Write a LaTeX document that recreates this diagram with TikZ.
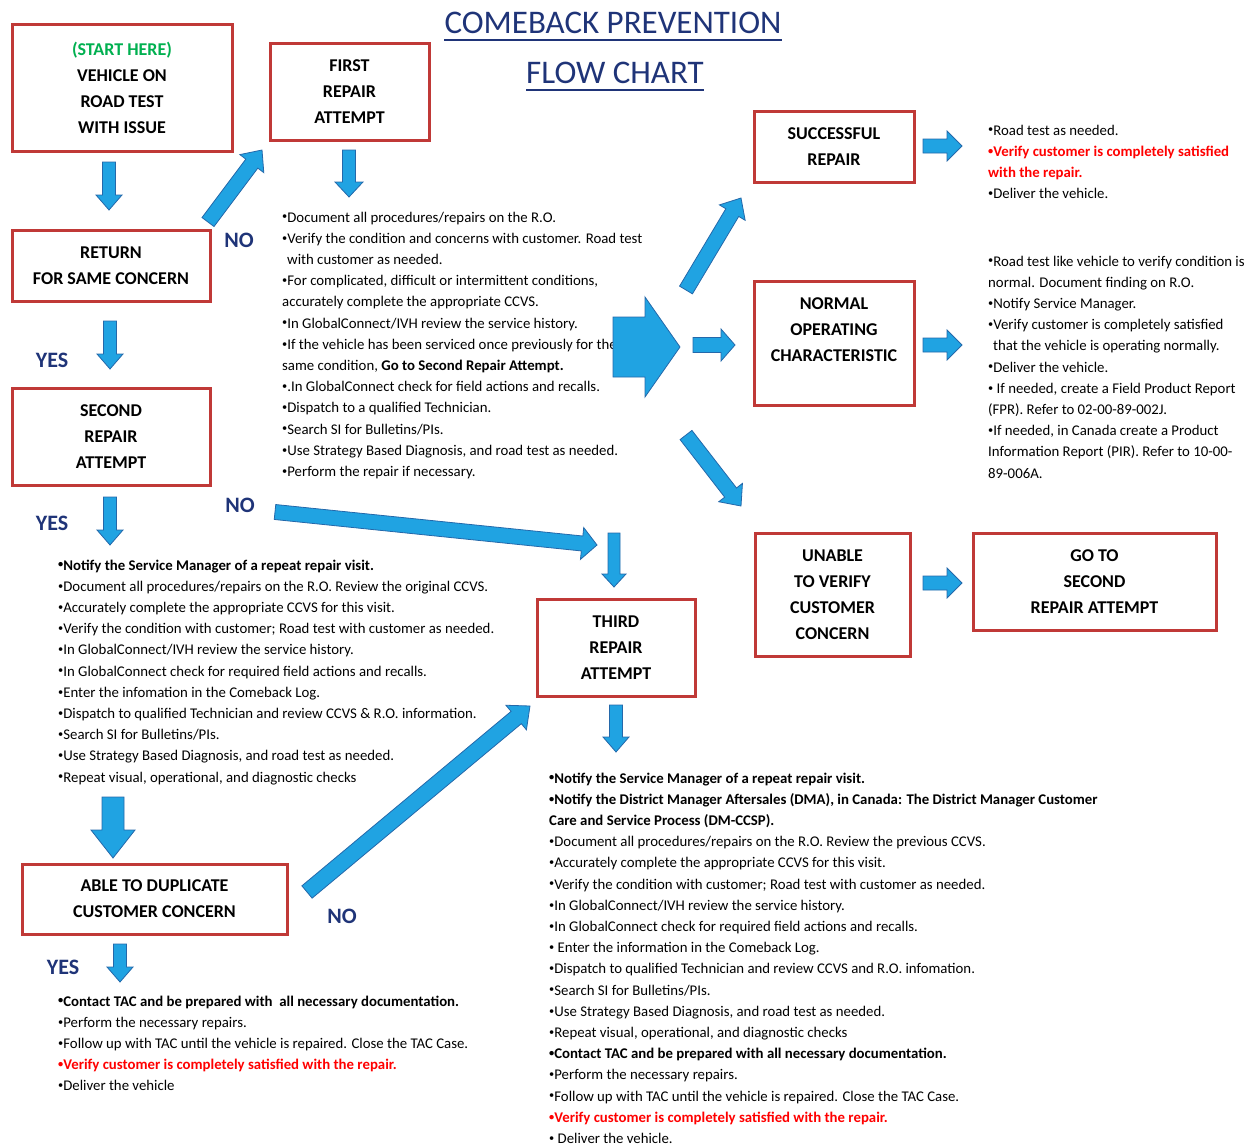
\documentclass[tikz,border=0pt]{standalone}
\usepackage{fontspec}
\setmainfont{Carlito}
\usetikzlibrary{calc}

\definecolor{boxred}{RGB}{192,57,55}
\definecolor{arrowblue}{RGB}{32,163,226}
\definecolor{arrowedge}{RGB}{36,104,170}
\definecolor{navy}{RGB}{31,52,120}
\definecolor{startgreen}{RGB}{0,176,80}
\definecolor{alertred}{RGB}{255,0,0}

\newcommand{\bl}{\raisebox{.3ex}{\scalebox{.7}{\textbullet}}}
% block arrow: from, to, half shaft, half head, head length
\newcommand{\flowarrow}[5]{%
  \coordinate (fahead) at ($(#2)!#5!(#1)$);
  \draw[flow] ($(#1)!#3!90:(#2)$) -- ($(fahead)!#3!90:(#2)$) -- ($(fahead)!#4!90:(#2)$) -- (#2)
    -- ($(fahead)!#4!-90:(#2)$) -- ($(fahead)!#3!-90:(#2)$) -- ($(#1)!#3!-90:(#2)$) -- cycle;
}

\begin{document}
\begin{tikzpicture}
    [x=1pt,y=-1pt,
        box/.style={draw=boxred,line width=3pt,fill=white,align=center,inner sep=0pt,
            font=\fontsize{18}{26}\selectfont\bfseries},
        notes/.style={anchor=north west,align=left,inner sep=0pt,
            font=\fontsize{14.8}{21.2}\selectfont},
        flow/.style={fill=arrowblue,draw=arrowedge,line width=.8pt,line join=miter},
        yesno/.style={text=navy,inner sep=0pt,font=\fontsize{22}{26}\selectfont\bfseries}]
    \useasboundingbox (0,0) rectangle (1253,1146);

    %title
    \node[text=navy,inner sep=0pt,anchor=base,font=\fontsize{33}{40}\selectfont] (title1) at (613,33) {COMEBACK PREVENTION};
    \node[text=navy,inner sep=0pt,anchor=base,font=\fontsize{33}{40}\selectfont] (title2) at (615,83) {FLOW CHART};
    \draw[navy,line width=2pt] ([yshift=-7pt]title1.base west) -- ([yshift=-7pt]title1.base east);
    \draw[navy,line width=2pt] ([yshift=-7pt]title2.base west) -- ([yshift=-7pt]title2.base east);

    %the boxes
    \node[box,minimum width=220,minimum height=127] (start) at (122,87.5) {\textcolor{startgreen}{(START HERE)}\\VEHICLE ON\\ROAD TEST\\WITH ISSUE};
    \node[box,minimum width=159,minimum height=97] (first) at (349.5,91.5) {FIRST\\REPAIR\\ATTEMPT};
    \node[box,minimum width=198,minimum height=71] (return) at (111,265.5) {RETURN\\FOR SAME CONCERN};
    \node[box,minimum width=198,minimum height=97] (second) at (111,436.5) {SECOND\\REPAIR\\ATTEMPT};
    \node[box,minimum width=265,minimum height=70] (able) at (154.5,899) {ABLE TO DUPLICATE\\CUSTOMER CONCERN};
    \node[box,minimum width=158,minimum height=97] (third) at (616,647.5) {THIRD\\REPAIR\\ATTEMPT};
    \node[box,minimum width=160,minimum height=71] (success) at (834,146.5) {SUCCESSFUL\\REPAIR};
    \node[box,minimum width=160,minimum height=124] (normal) at (834,343) {NORMAL\\OPERATING\\CHARACTERISTIC\\\mbox{}};
    \node[box,minimum width=155,minimum height=123] (unable) at (832.5,594.5) {UNABLE\\TO VERIFY\\CUSTOMER\\CONCERN};
    \node[box,minimum width=243,minimum height=97] (goto) at (1094.5,581.5) {GO TO\\SECOND\\REPAIR ATTEMPT};

    %yes and no
    \node[yesno] (no1) at (239,240) {NO};
    \node[yesno] (yes1) at (52,360) {YES};
    \node[yesno] (yes2) at (52,523) {YES};
    \node[yesno] (no2) at (240,505) {NO};
    \node[yesno] (no3) at (342,916) {NO};
    \node[yesno] (yes3) at (63,967) {YES};

    %the notes
    \node[notes] (firstnotes) at (282,207) {\strut\bl Document all procedures/repairs on the R.O.\\
        \bl Verify the condition and concerns with customer. Road test\\
        \hspace{5pt}with customer as needed.\\
        \bl For complicated, difficult or intermittent conditions,\\
        accurately complete the appropriate CCVS.\\
        \bl In GlobalConnect/IVH review the service history.\\
        \bl If the vehicle has been serviced once previously for the\\
        same condition, \textbf{Go to Second Repair Attempt.}\\
        \bl .In GlobalConnect check for field actions and recalls.\\
        \bl Dispatch to a qualified Technician.\\
        \bl Search SI for Bulletins/PIs.\\
        \bl Use Strategy Based Diagnosis, and road test as needed.\\
        \bl Perform the repair if necessary.};
    \node[notes] (secondnotes) at (58,555) {\strut\textbf{\bl Notify the Service Manager of a repeat repair visit.}\\
        \bl Document all procedures/repairs on the R.O. Review the original CCVS.\\
        \bl Accurately complete the appropriate CCVS for this visit.\\
        \bl Verify the condition with customer; Road test with customer as needed.\\
        \bl In GlobalConnect/IVH review the service history.\\
        \bl In GlobalConnect check for required field actions and recalls.\\
        \bl Enter the infomation in the Comeback Log.\\
        \bl Dispatch to qualified Technician and review CCVS \& R.O. information.\\
        \bl Search SI for Bulletins/PIs.\\
        \bl Use Strategy Based Diagnosis, and road test as needed.\\
        \bl Repeat visual, operational, and diagnostic checks};
    \node[notes] (ablenotes) at (58,991) {\strut\textbf{\bl Contact TAC and be prepared with\ \ all necessary documentation.}\\
        \bl Perform the necessary repairs.\\
        \bl Follow up with TAC until the vehicle is repaired. Close the TAC Case.\\
        \textcolor{alertred}{\bfseries\bl Verify customer is completely satisfied with the repair.}\\
        \bl Deliver the vehicle};
    \node[notes] (thirdnotes) at (549,768) {\strut\textbf{\bl Notify the Service Manager of a repeat repair visit.}\\
        \textbf{\bl Notify the District Manager Aftersales (DMA), in Canada: The District Manager Customer}\\
        \textbf{Care and Service Process (DM-CCSP).}\\
        \bl Document all procedures/repairs on the R.O. Review the previous CCVS.\\
        \bl Accurately complete the appropriate CCVS for this visit.\\
        \bl Verify the condition with customer; Road test with customer as needed.\\
        \bl In GlobalConnect/IVH review the service history.\\
        \bl In GlobalConnect check for required field actions and recalls.\\
        \bl\ Enter the information in the Comeback Log.\\
        \bl Dispatch to qualified Technician and review CCVS and R.O. infomation.\\
        \bl Search SI for Bulletins/PIs.\\
        \bl Use Strategy Based Diagnosis, and road test as needed.\\
        \bl Repeat visual, operational, and diagnostic checks\\
        \textbf{\bl Contact TAC and be prepared with all necessary documentation.}\\
        \bl Perform the necessary repairs.\\
        \bl Follow up with TAC until the vehicle is repaired. Close the TAC Case.\\
        \textcolor{alertred}{\bfseries\bl Verify customer is completely satisfied with the repair.}\\
        \bl\ Deliver the vehicle.};
    \node[notes] (successnotes) at (988,120) {\strut\bl Road test as needed.\\
        \textcolor{alertred}{\bfseries\bl Verify customer is completely satisfied}\\
        \textcolor{alertred}{\bfseries with the repair.}\\
        \bl Deliver the vehicle.};
    \node[notes] (normalnotes) at (988,251) {\strut\bl Road test like vehicle to verify condition is\\
        normal. Document finding on R.O.\\
        \bl Notify Service Manager.\\
        \bl Verify customer is completely satisfied\\
        \hspace{5pt}that the vehicle is operating normally.\\
        \bl Deliver the vehicle.\\
        \bl\ If needed, create a Field Product Report\\
        (FPR). Refer to 02-00-89-002J.\\
        \bl If needed, in Canada create a Product\\
        Information Report (PIR). Refer to 10-00-\\
        89-006A.};

    %arrow ends
    \coordinate (d1a) at (109,162);   \coordinate (d1b) at (109,210);
    \coordinate (n1a) at (208,222);   \coordinate (n1b) at (262,150);
    \coordinate (d2a) at (349,150);   \coordinate (d2b) at (349,197);
    \coordinate (d3a) at (110,321);   \coordinate (d3b) at (110,369);
    \coordinate (d4a) at (110,497);   \coordinate (d4b) at (110,545);
    \coordinate (n2a) at (275,512);   \coordinate (n2b) at (597,545);
    \coordinate (d5a) at (614,533);   \coordinate (d5b) at (614,587);
    \coordinate (d6a) at (616,705);   \coordinate (d6b) at (616,752);
    \coordinate (bga) at (613,347);   \coordinate (bgb) at (680,347);
    \coordinate (r1a) at (693,345);   \coordinate (r1b) at (735,345);
    \coordinate (u1a) at (686,290);   \coordinate (u1b) at (741,198);
    \coordinate (u2a) at (686,435);   \coordinate (u2b) at (741,506);
    \coordinate (r2a) at (923,146);   \coordinate (r2b) at (962,146);
    \coordinate (r3a) at (923,345);   \coordinate (r3b) at (962,345);
    \coordinate (r4a) at (923,583);   \coordinate (r4b) at (962,583);
    \coordinate (d7a) at (113,797);   \coordinate (d7b) at (113,858);
    \coordinate (n3a) at (307,892);   \coordinate (n3b) at (530,706);
    \coordinate (d8a) at (120,944);   \coordinate (d8b) at (120,982);

    %the blue arrows
    \flowarrow{d1a}{d1b}{6.5pt}{13pt}{15pt}
    \flowarrow{n1a}{n1b}{7.5pt}{15pt}{17pt}
    \flowarrow{d2a}{d2b}{6.5pt}{14pt}{15pt}
    \flowarrow{d3a}{d3b}{6.5pt}{13pt}{15pt}
    \flowarrow{d4a}{d4b}{6.5pt}{13pt}{15pt}
    \flowarrow{n2a}{n2b}{7.5pt}{16pt}{15pt}
    \flowarrow{d5a}{d5b}{6pt}{12pt}{13pt}
    \flowarrow{d6a}{d6b}{6.5pt}{13pt}{15pt}
    \flowarrow{bga}{bgb}{30pt}{50pt}{35pt}
    \flowarrow{r1a}{r1b}{7.5pt}{16pt}{14pt}
    \flowarrow{u1a}{u1b}{7.5pt}{15pt}{17pt}
    \flowarrow{u2a}{u2b}{7.5pt}{15pt}{17pt}
    \flowarrow{r2a}{r2b}{7pt}{15pt}{15pt}
    \flowarrow{r3a}{r3b}{7pt}{15pt}{15pt}
    \flowarrow{r4a}{r4b}{7pt}{15pt}{15pt}
    \flowarrow{d7a}{d7b}{11pt}{22pt}{28pt}
    \flowarrow{n3a}{n3b}{8pt}{16pt}{18pt}
    \flowarrow{d8a}{d8b}{6.5pt}{13pt}{15pt}
\end{tikzpicture}
\end{document}
